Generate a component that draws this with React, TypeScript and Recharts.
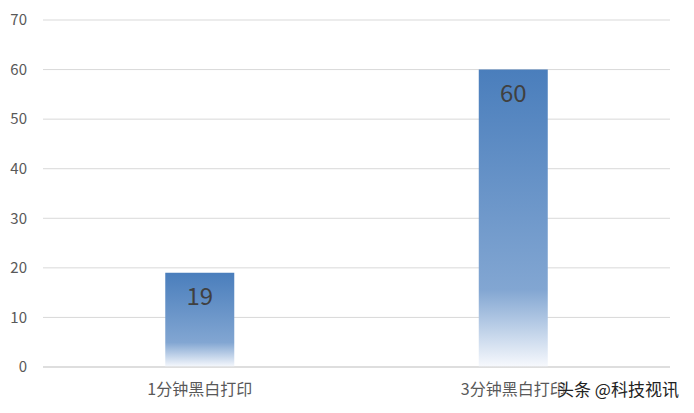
import { Bar, BarChart, CartesianGrid, LabelList, XAxis, YAxis } from "recharts";

const categories = ["1分钟黑白打印", "3分钟黑白打印"];
const values = [19, 60];
const yTicks = [0, 10, 20, 30, 40, 50, 60, 70];

const rows = categories.map((name, i) => ({ name, value: values[i] }));

const FONT = '"Microsoft YaHei", "Noto Sans CJK SC", "Noto Sans", sans-serif';

export default function App() {
  return (
    <div
      style={{
        position: "absolute",
        left: 0,
        top: 0,
        width: 694,
        height: 413,
        background: "#fff",
        fontFamily: FONT,
      }}
    >
      <BarChart
        width={694}
        height={413}
        data={rows}
        margin={{ top: 20, right: 24, bottom: 16, left: 0 }}
        barCategoryGap="39%"
      >
        <defs>
          <linearGradient id="barFade" x1="0" y1="0" x2="0" y2="1">
            <stop offset="0%" stopColor="#4a7ebc" />
            <stop offset="74%" stopColor="#82a6d2" />
            <stop offset="100%" stopColor="#f7f9fd" />
          </linearGradient>
        </defs>
        <CartesianGrid vertical={false} stroke="#d9d9d9" />
        <XAxis
          dataKey="name"
          axisLine={{ stroke: "#d0d0d0" }}
          tickLine={false}
          tick={{ fill: "#595959", fontSize: 16, fontFamily: FONT }}
          tickMargin={11}
        />
        <YAxis
          domain={[0, 70]}
          ticks={yTicks}
          width={43}
          axisLine={false}
          tickLine={false}
          tick={{ fill: "#595959", fontSize: 15, fontFamily: FONT }}
          tickMargin={10}
        />
        <Bar dataKey="value" fill="url(#barFade)" isAnimationActive={false}>
          <LabelList
            dataKey="value"
            position="insideTop"
            offset={15}
            fill="#404040"
            fontSize={24}
            fontFamily={FONT}
          />
        </Bar>
      </BarChart>
      <div
        style={{
          position: "absolute",
          left: 557,
          top: 376,
          fontSize: 17,
          color: "#222",
          textShadow: "0 0 2px #fff",
          whiteSpace: "nowrap",
        }}
      >
        头条 @科技视讯
      </div>
    </div>
  );
}
